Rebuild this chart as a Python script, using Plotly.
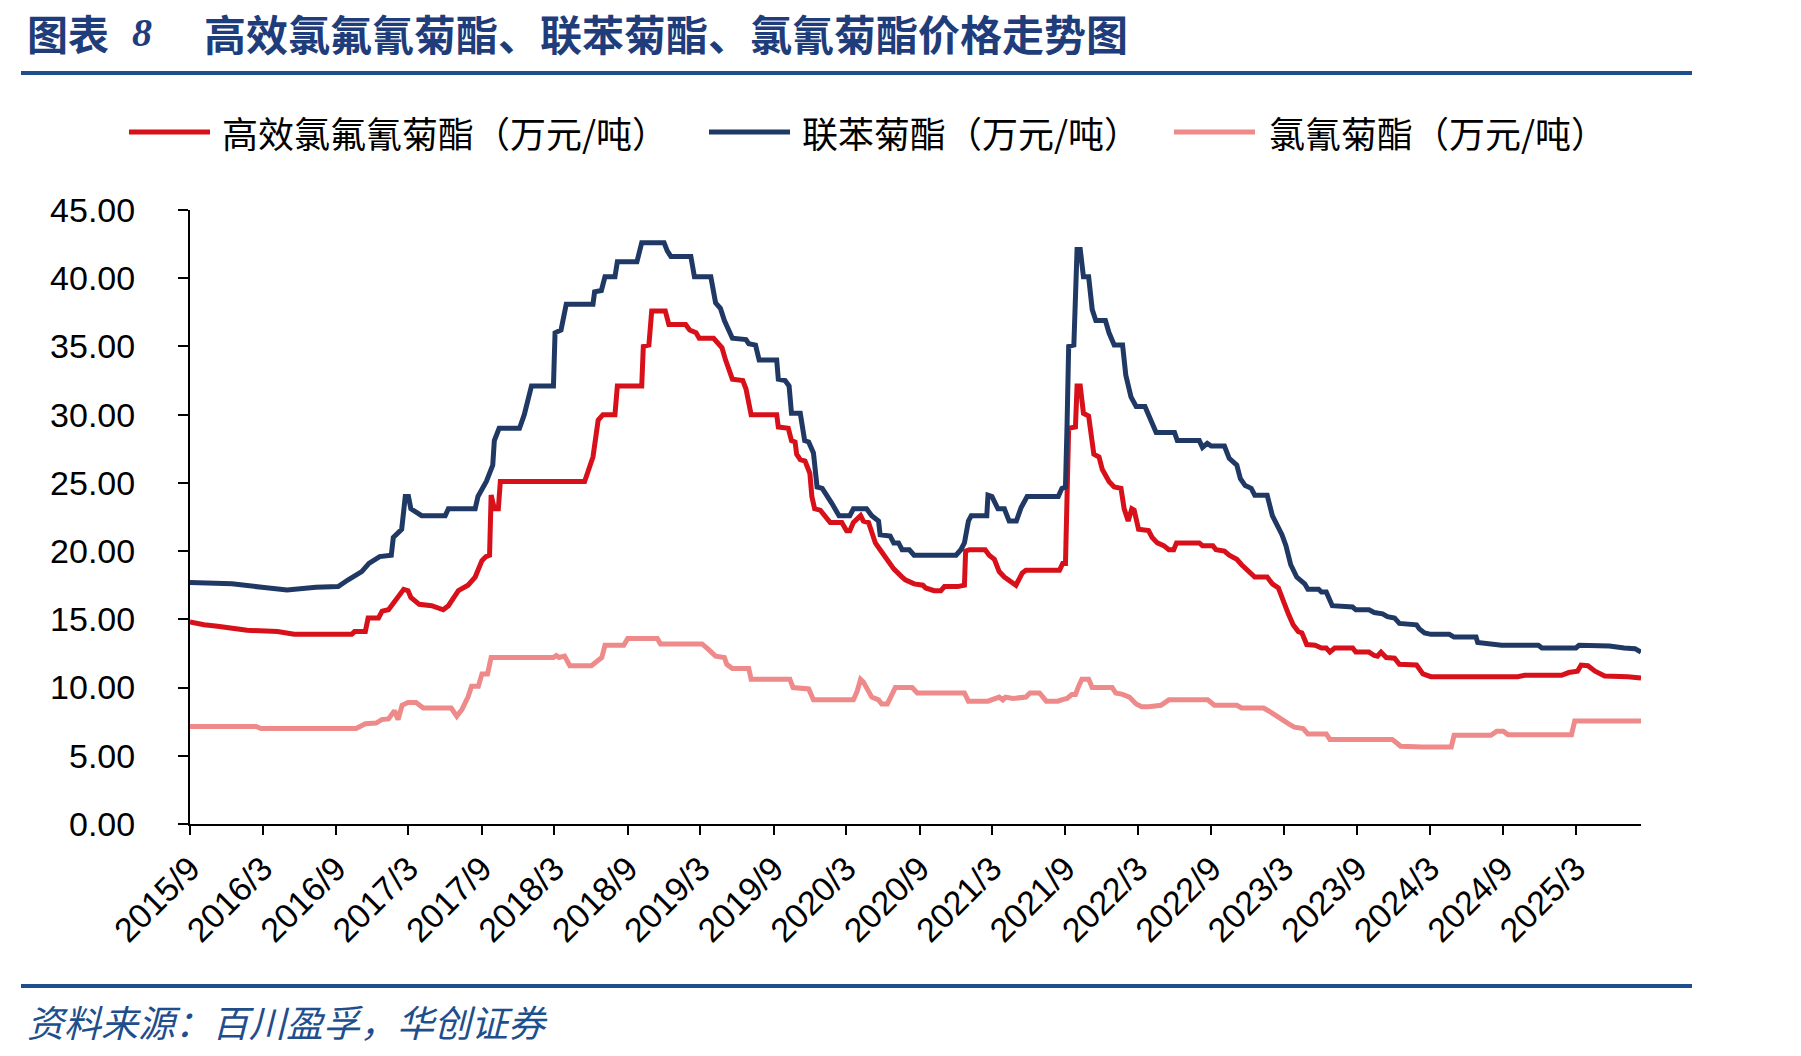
import plotly.graph_objects as go

# ---------------- data ----------------
tick_dates = ["2015-09-01", "2016-03-01", "2016-09-01", "2017-03-01", "2017-09-01",
              "2018-03-01", "2018-09-01", "2019-03-01", "2019-09-01", "2020-03-01",
              "2020-09-01", "2021-03-01", "2021-09-01", "2022-03-01", "2022-09-01",
              "2023-03-01", "2023-09-01", "2024-03-01", "2024-09-01", "2025-03-01"]
tick_labels = ["2015/9", "2016/3", "2016/9", "2017/3", "2017/9", "2018/3", "2018/9",
               "2019/3", "2019/9", "2020/3", "2020/9", "2021/3", "2021/9", "2022/3",
               "2022/9", "2023/3", "2023/9", "2024/3", "2024/9", "2025/3"]
y_ticks = [0, 5, 10, 15, 20, 25, 30, 35, 40, 45]

series_names = ["高效氯氟氰菊酯（万元/吨）", "联苯菊酯（万元/吨）", "氯氰菊酯（万元/吨）"]

# 高效氯氟氰菊酯
dates_lcyhl = ["2015-09-01", "2015-10-06", "2015-11-09", "2016-01-22", "2016-04-07", "2016-05-19",
               "2016-10-10", "2016-10-17", "2016-11-13", "2016-11-20", "2016-12-16", "2016-12-25",
               "2017-01-10", "2017-02-01", "2017-02-17", "2017-02-28", "2017-03-07", "2017-03-28",
               "2017-04-28", "2017-05-27", "2017-06-09", "2017-07-04", "2017-07-28", "2017-08-15",
               "2017-09-01", "2017-09-11", "2017-09-20", "2017-09-24", "2017-10-02", "2017-10-12",
               "2017-10-17", "2018-05-16", "2018-05-28", "2018-06-06", "2018-06-19", "2018-07-01",
               "2018-07-31", "2018-08-06", "2018-10-06", "2018-10-10", "2018-10-24", "2018-10-31",
               "2018-12-04", "2018-12-13", "2019-01-24", "2019-02-03", "2019-02-19", "2019-02-27",
               "2019-04-04", "2019-04-25", "2019-05-04", "2019-05-21", "2019-06-16", "2019-06-24",
               "2019-07-07", "2019-09-09", "2019-09-13", "2019-10-08", "2019-10-16", "2019-10-25",
               "2019-10-29", "2019-11-07", "2019-11-19", "2019-12-01", "2019-12-06", "2019-12-13",
               "2019-12-27", "2020-01-09", "2020-01-21", "2020-02-19", "2020-03-02", "2020-03-10",
               "2020-03-19", "2020-04-06", "2020-04-13", "2020-04-26", "2020-05-13", "2020-05-25",
               "2020-06-12", "2020-06-28", "2020-07-19", "2020-07-27", "2020-08-18", "2020-09-09",
               "2020-09-16", "2020-10-07", "2020-10-24", "2020-11-02", "2020-12-05", "2020-12-22",
               "2020-12-25", "2021-01-04", "2021-02-12", "2021-02-22", "2021-03-07", "2021-03-19",
               "2021-04-01", "2021-04-22", "2021-04-30", "2021-05-16", "2021-05-25", "2021-08-17",
               "2021-08-25", "2021-09-01", "2021-09-09", "2021-09-26", "2021-09-30", "2021-10-08",
               "2021-10-16", "2021-10-29", "2021-11-07", "2021-11-11", "2021-11-24", "2021-12-02",
               "2021-12-19", "2022-01-01", "2022-01-18", "2022-01-26", "2022-02-05", "2022-02-14",
               "2022-02-20", "2022-03-03", "2022-03-28", "2022-04-06", "2022-04-19", "2022-05-05",
               "2022-05-18", "2022-05-30", "2022-06-06", "2022-08-02", "2022-08-10", "2022-09-05",
               "2022-09-13", "2022-10-04", "2022-10-16", "2022-11-04", "2022-11-16", "2022-11-28",
               "2022-12-19", "2023-01-19", "2023-02-01", "2023-02-16", "2023-02-28", "2023-03-13",
               "2023-03-25", "2023-04-07", "2023-04-16", "2023-04-28", "2023-05-19", "2023-06-04",
               "2023-06-16", "2023-06-25", "2023-07-07", "2023-08-21", "2023-08-29", "2023-10-01",
               "2023-10-14", "2023-10-22", "2023-10-31", "2023-11-13", "2023-12-04", "2023-12-16",
               "2024-01-28", "2024-02-13", "2024-03-04", "2024-10-07", "2024-10-25", "2025-01-25",
               "2025-02-12", "2025-03-06", "2025-03-15", "2025-04-01", "2025-04-19", "2025-05-13",
               "2025-07-10", "2025-07-28", "2025-08-12"]
vals_lcyhl = [14.8, 14.6, 14.5, 14.2, 14.1, 13.9,
              13.9, 14.1, 14.1, 15.1, 15.1, 15.6,
              15.7, 16.6, 17.2, 17.1, 16.6, 16.1,
              16.0, 15.7, 16.0, 17.1, 17.5, 18.1,
              19.3, 19.6, 19.7, 24.1, 23.1, 23.1,
              25.1, 25.1, 26.3, 26.9, 29.6, 30.0,
              30.0, 32.1, 32.1, 35.0, 35.1, 37.6,
              37.6, 36.6, 36.6, 36.2, 36.0, 35.6,
              35.6, 34.9, 34.0, 32.6, 32.5, 31.9,
              30.0, 30.0, 29.1, 29.0, 28.1, 28.0,
              27.1, 26.7, 26.6, 25.7, 24.0, 23.1,
              23.0, 22.6, 22.1, 22.1, 21.5, 21.5,
              22.1, 22.6, 22.2, 22.1, 20.6, 20.1,
              19.4, 18.7, 18.1, 17.9, 17.6, 17.5,
              17.3, 17.1, 17.1, 17.4, 17.4, 17.5,
              20.0, 20.1, 20.1, 19.7, 19.4, 18.5,
              18.1, 17.6, 17.5, 18.4, 18.6, 18.6,
              19.1, 19.1, 29.0, 29.1, 32.1, 32.1,
              30.1, 29.9, 28.2, 27.1, 26.9, 26.0,
              25.1, 24.7, 24.6, 23.1, 22.2, 23.1,
              23.0, 21.6, 21.5, 21.0, 20.6, 20.4,
              20.1, 20.1, 20.6, 20.6, 20.4, 20.4,
              20.1, 20.0, 19.7, 19.4, 19.0, 18.7,
              18.1, 18.1, 17.6, 17.3, 16.3, 15.4,
              14.6, 14.1, 14.0, 13.15, 13.1, 12.9,
              12.9, 12.6, 12.9, 12.9, 12.6, 12.6,
              12.35, 12.3, 12.6, 12.2, 12.15, 11.7,
              11.65, 11.0, 10.8, 10.8, 10.9, 10.9,
              11.1, 11.2, 11.65, 11.6, 11.2, 10.85,
              10.8, 10.7, 10.7]

# 联苯菊酯
dates_lbjz = ["2015-09-01", "2015-12-15", "2016-02-28", "2016-05-01", "2016-07-12", "2016-09-06",
              "2016-10-01", "2016-11-04", "2016-11-22", "2016-12-19", "2017-01-17", "2017-01-22",
              "2017-02-12", "2017-02-21", "2017-03-01", "2017-03-07", "2017-04-03", "2017-06-01",
              "2017-06-09", "2017-08-15", "2017-08-22", "2017-09-12", "2017-09-28", "2017-10-02",
              "2017-10-14", "2017-12-04", "2017-12-16", "2017-12-25", "2018-01-03", "2018-02-27",
              "2018-03-03", "2018-03-18", "2018-03-31", "2018-06-06", "2018-06-10", "2018-06-27",
              "2018-07-06", "2018-07-31", "2018-08-06", "2018-09-24", "2018-10-06", "2018-12-01",
              "2018-12-09", "2018-12-18", "2019-02-06", "2019-02-15", "2019-03-28", "2019-04-09",
              "2019-04-21", "2019-05-01", "2019-05-21", "2019-06-24", "2019-07-01", "2019-07-18",
              "2019-07-27", "2019-09-09", "2019-09-13", "2019-09-30", "2019-10-10", "2019-10-16",
              "2019-11-07", "2019-11-18", "2019-11-28", "2019-12-10", "2019-12-19", "2020-01-01",
              "2020-01-13", "2020-01-25", "2020-02-12", "2020-03-10", "2020-03-19", "2020-04-21",
              "2020-05-04", "2020-05-21", "2020-05-25", "2020-06-19", "2020-06-28", "2020-07-10",
              "2020-07-19", "2020-08-06", "2020-08-18", "2020-12-01", "2020-12-13", "2020-12-22",
              "2021-01-01", "2021-01-08", "2021-02-16", "2021-02-19", "2021-03-01", "2021-03-16",
              "2021-04-01", "2021-04-13", "2021-05-01", "2021-05-13", "2021-05-28", "2021-08-14",
              "2021-08-23", "2021-09-01", "2021-09-05", "2021-09-09", "2021-09-22", "2021-09-30",
              "2021-10-08", "2021-10-16", "2021-10-29", "2021-11-07", "2021-11-16", "2021-12-10",
              "2021-12-19", "2022-01-01", "2022-01-22", "2022-01-30", "2022-02-12", "2022-02-25",
              "2022-03-19", "2022-04-01", "2022-04-16", "2022-06-01", "2022-06-08", "2022-08-02",
              "2022-08-10", "2022-08-22", "2022-09-01", "2022-10-04", "2022-10-16", "2022-11-04",
              "2022-11-13", "2022-11-25", "2022-12-10", "2022-12-19", "2023-01-19", "2023-02-01",
              "2023-02-13", "2023-02-25", "2023-03-07", "2023-03-19", "2023-04-03", "2023-04-23",
              "2023-05-01", "2023-05-28", "2023-06-04", "2023-06-16", "2023-07-01", "2023-08-21",
              "2023-08-29", "2023-10-01", "2023-10-14", "2023-11-04", "2023-11-16", "2023-12-04",
              "2023-12-16", "2024-01-28", "2024-02-04", "2024-02-17", "2024-03-04", "2024-04-19",
              "2024-05-01", "2024-06-25", "2024-06-29", "2024-08-19", "2024-08-28", "2024-11-28",
              "2024-12-07", "2025-03-02", "2025-03-10", "2025-05-25", "2025-06-25", "2025-07-01",
              "2025-07-28", "2025-08-08", "2025-08-12"]
vals_lbjz = [17.7, 17.6, 17.35, 17.15, 17.35, 17.4,
             17.9, 18.5, 19.1, 19.6, 19.7, 21.0,
             21.6, 24.0, 24.0, 23.1, 22.6, 22.6,
             23.1, 23.1, 24.0, 25.1, 26.3, 28.1,
             29.0, 29.0, 30.0, 31.0, 32.1, 32.1,
             36.0, 36.2, 38.1, 38.1, 39.0, 39.1,
             40.1, 40.1, 41.2, 41.2, 42.6, 42.6,
             42.0, 41.6, 41.6, 40.1, 40.1, 38.2,
             37.8, 36.9, 35.6, 35.5, 35.2, 35.1,
             34.0, 34.0, 32.6, 32.5, 32.1, 30.1,
             30.1, 28.1, 28.0, 27.2, 24.7, 24.6,
             24.1, 23.5, 22.6, 22.6, 23.1, 23.1,
             22.6, 22.2, 21.2, 21.1, 20.6, 20.6,
             20.1, 20.1, 19.7, 19.7, 20.1, 20.6,
             22.2, 22.6, 22.6, 24.1, 24.0, 23.1,
             23.1, 22.2, 22.2, 23.2, 24.0, 24.0,
             24.6, 24.7, 29.3, 35.0, 35.1, 42.1,
             42.1, 40.1, 40.1, 37.7, 36.9, 36.9,
             36.0, 35.1, 35.1, 32.9, 31.3, 30.6,
             30.6, 29.7, 28.7, 28.7, 28.1, 28.1,
             27.6, 27.9, 27.7, 27.7, 26.8, 26.3,
             25.3, 24.8, 24.6, 24.1, 24.1, 22.6,
             21.9, 21.2, 20.4, 19.0, 18.1, 17.6,
             17.2, 17.2, 17.0, 17.0, 16.0, 15.9,
             15.7, 15.7, 15.5, 15.4, 15.2, 15.1,
             14.7, 14.6, 14.3, 14.0, 13.9, 13.9,
             13.7, 13.7, 13.3, 13.2, 13.1, 13.1,
             12.9, 12.9, 13.1, 13.05, 13.0, 12.9,
             12.85, 12.6, 12.6]

# 氯氰菊酯
dates_lqjz = ["2015-09-01", "2016-02-13", "2016-02-26", "2016-10-21", "2016-11-13", "2016-12-10",
              "2016-12-24", "2017-01-10", "2017-01-25", "2017-02-03", "2017-02-13", "2017-02-28",
              "2017-03-20", "2017-04-07", "2017-06-16", "2017-06-30", "2017-07-13", "2017-07-28",
              "2017-08-06", "2017-08-23", "2017-09-01", "2017-09-15", "2017-09-24", "2018-02-27",
              "2018-03-06", "2018-03-13", "2018-03-27", "2018-04-09", "2018-06-02", "2018-06-19",
              "2018-06-28", "2018-07-06", "2018-08-22", "2018-09-01", "2018-11-14", "2018-11-22",
              "2019-03-06", "2019-03-22", "2019-04-09", "2019-05-01", "2019-05-07", "2019-05-21",
              "2019-07-01", "2019-07-07", "2019-10-12", "2019-10-20", "2019-11-28", "2019-12-10",
              "2020-03-19", "2020-03-28", "2020-04-06", "2020-04-13", "2020-04-26", "2020-05-04",
              "2020-05-21", "2020-05-29", "2020-06-12", "2020-06-25", "2020-07-02", "2020-08-13",
              "2020-08-26", "2020-12-22", "2021-01-01", "2021-02-19", "2021-03-07", "2021-03-19",
              "2021-03-28", "2021-04-04", "2021-04-22", "2021-05-25", "2021-06-04", "2021-06-28",
              "2021-07-15", "2021-08-13", "2021-08-22", "2021-09-05", "2021-09-17", "2021-09-26",
              "2021-10-04", "2021-10-12", "2021-10-29", "2021-11-07", "2021-12-27", "2022-01-05",
              "2022-01-22", "2022-02-08", "2022-02-25", "2022-03-11", "2022-03-28", "2022-04-28",
              "2022-05-18", "2022-08-23", "2022-09-09", "2022-11-04", "2022-11-16", "2023-01-10",
              "2023-01-22", "2023-02-10", "2023-02-25", "2023-03-13", "2023-03-28", "2023-04-19",
              "2023-05-01", "2023-06-16", "2023-06-25", "2023-11-28", "2023-12-11", "2023-12-19",
              "2024-02-13", "2024-04-24", "2024-05-01", "2024-08-01", "2024-08-16", "2024-09-01",
              "2024-09-13", "2025-02-19", "2025-02-27", "2025-08-12"]
vals_lqjz = [7.15, 7.15, 7.0, 7.0, 7.35, 7.4,
             7.65, 7.7, 8.3, 7.65, 8.7, 8.9,
             8.9, 8.5, 8.5, 7.9, 8.4, 9.3,
             10.1, 10.1, 11.0, 11.0, 12.2, 12.2,
             12.35, 12.2, 12.3, 11.6, 11.6, 12.05,
             12.2, 13.1, 13.1, 13.6, 13.6, 13.2,
             13.2, 12.8, 12.3, 12.2, 11.7, 11.4,
             11.4, 10.6, 10.6, 10.0, 9.9, 9.1,
             9.1, 9.7, 10.6, 10.4, 9.6, 9.3,
             9.1, 8.8, 8.8, 9.6, 10.0, 10.0,
             9.6, 9.6, 9.0, 9.0, 9.2, 9.3,
             9.1, 9.3, 9.2, 9.3, 9.6, 9.6,
             9.0, 9.0, 9.1, 9.2, 9.5, 9.5,
             10.1, 10.6, 10.6, 10.0, 10.0, 9.6,
             9.5, 9.3, 8.8, 8.6, 8.6, 8.7,
             9.1, 9.1, 8.7, 8.7, 8.5, 8.5,
             8.3, 7.9, 7.65, 7.35, 7.1, 7.0,
             6.6, 6.6, 6.2, 6.2, 5.9, 5.7,
             5.65, 5.65, 6.5, 6.5, 6.8, 6.8,
             6.55, 6.55, 7.55, 7.55]

x_range = ["2015-09-01", "2025-08-12"]

title_prefix = "图表"
title_num = "8"
title_main = "高效氯氟氰菊酯、联苯菊酯、氯氰菊酯价格走势图"
source_text = "资料来源：百川盈孚，华创证券"

# ---------------- styling ----------------
W, H = 1801, 1056
ML, MR, MT, MB = 190, 160, 210, 232
PW, PH = W - ML - MR, H - MT - MB

C_RED = "#D7101A"
C_NAVY = "#203864"
C_PINK = "#EE8A89"
C_TITLE = "#1F3D7A"
C_RULE = "#1F4E8C"
CJK = "Noto Sans CJK SC"
LAT = "Liberation Sans, Arial"


def fx(px):
    return (px - ML) / PW


def fy(py):
    return (H - MB - py) / PH


fig = go.Figure()
for dts, vals, col, name in [(dates_lcyhl, vals_lcyhl, C_RED, series_names[0]),
                             (dates_lbjz, vals_lbjz, C_NAVY, series_names[1]),
                             (dates_lqjz, vals_lqjz, C_PINK, series_names[2])]:
    fig.add_trace(go.Scatter(x=dts, y=vals, mode="lines", name=name,
                             line=dict(color=col, width=5), showlegend=False))

shapes = []
annotations = []

# title rule and footer rule
shapes.append(dict(type="line", xref="paper", yref="paper", x0=fx(21), x1=fx(1692),
                   y0=fy(73), y1=fy(73), line=dict(color=C_RULE, width=4)))
shapes.append(dict(type="line", xref="paper", yref="paper", x0=fx(21), x1=fx(1692),
                   y0=fy(986), y1=fy(986), line=dict(color=C_RULE, width=4)))

# title
TY = 32
annotations.append(dict(text="<b>" + title_prefix + "</b>", x=fx(25), y=fy(TY), xref="paper", yref="paper",
                        xanchor="left", yanchor="middle", showarrow=False,
                        font=dict(family=CJK, size=41, color=C_TITLE)))
annotations.append(dict(text="<b><i>" + title_num + "</i></b>", x=fx(130), y=fy(TY), xref="paper", yref="paper",
                        xanchor="left", yanchor="middle", showarrow=False,
                        font=dict(family="Liberation Serif, DejaVu Serif", size=40, color=C_TITLE)))
annotations.append(dict(text="<b>" + title_main + "</b>", x=fx(202), y=fy(TY), xref="paper", yref="paper",
                        xanchor="left", yanchor="middle", showarrow=False,
                        font=dict(family=CJK, size=42, color=C_TITLE)))

# legend (drawn manually to match long line samples)
leg_y = 132
leg_items = [(129, 210, 220, C_RED, series_names[0]),
             (709, 790, 800, C_NAVY, series_names[1]),
             (1174, 1255, 1267, C_PINK, series_names[2])]
for x0, x1, tx, col, name in leg_items:
    shapes.append(dict(type="line", xref="paper", yref="paper", x0=fx(x0), x1=fx(x1),
                       y0=fy(leg_y), y1=fy(leg_y), line=dict(color=col, width=5)))
    annotations.append(dict(text=name, x=fx(tx), y=fy(leg_y), xref="paper", yref="paper",
                            xanchor="left", yanchor="middle", showarrow=False,
                            font=dict(family=CJK, size=36, color="#000000")))

# source
annotations.append(dict(text=source_text, x=fx(25), y=fy(1021), xref="paper", yref="paper",
                        xanchor="left", yanchor="middle", showarrow=False,
                        font=dict(family=CJK, size=37, color=C_RULE, style="italic")))

fig.update_layout(
    width=W, height=H,
    margin=dict(l=ML, r=MR, t=MT, b=MB, pad=0),
    paper_bgcolor="white", plot_bgcolor="white",
    shapes=shapes, annotations=annotations,
    showlegend=False,
)
fig.update_xaxes(type="date", range=x_range, tickmode="array", tickvals=tick_dates, ticktext=tick_labels,
                 tickangle=-45, ticks="outside", ticklen=9, tickwidth=2, tickcolor="#000000",
                 showline=True, linecolor="#000000", linewidth=2, showgrid=False, zeroline=False,
                 tickfont=dict(family=LAT, size=34, color="#000000"))
fig.update_yaxes(range=[0, 45], tickmode="array", tickvals=y_ticks,
                 ticktext=["%.2f" % v for v in y_ticks],
                 ticks="outside", ticklen=10, tickwidth=2, tickcolor="#000000",
                 showline=True, linecolor="#000000", linewidth=2, showgrid=False, zeroline=False,
                 ticklabelstandoff=36,
                 tickfont=dict(family=LAT, size=34, color="#000000"))

fig.write_html("out.html")
